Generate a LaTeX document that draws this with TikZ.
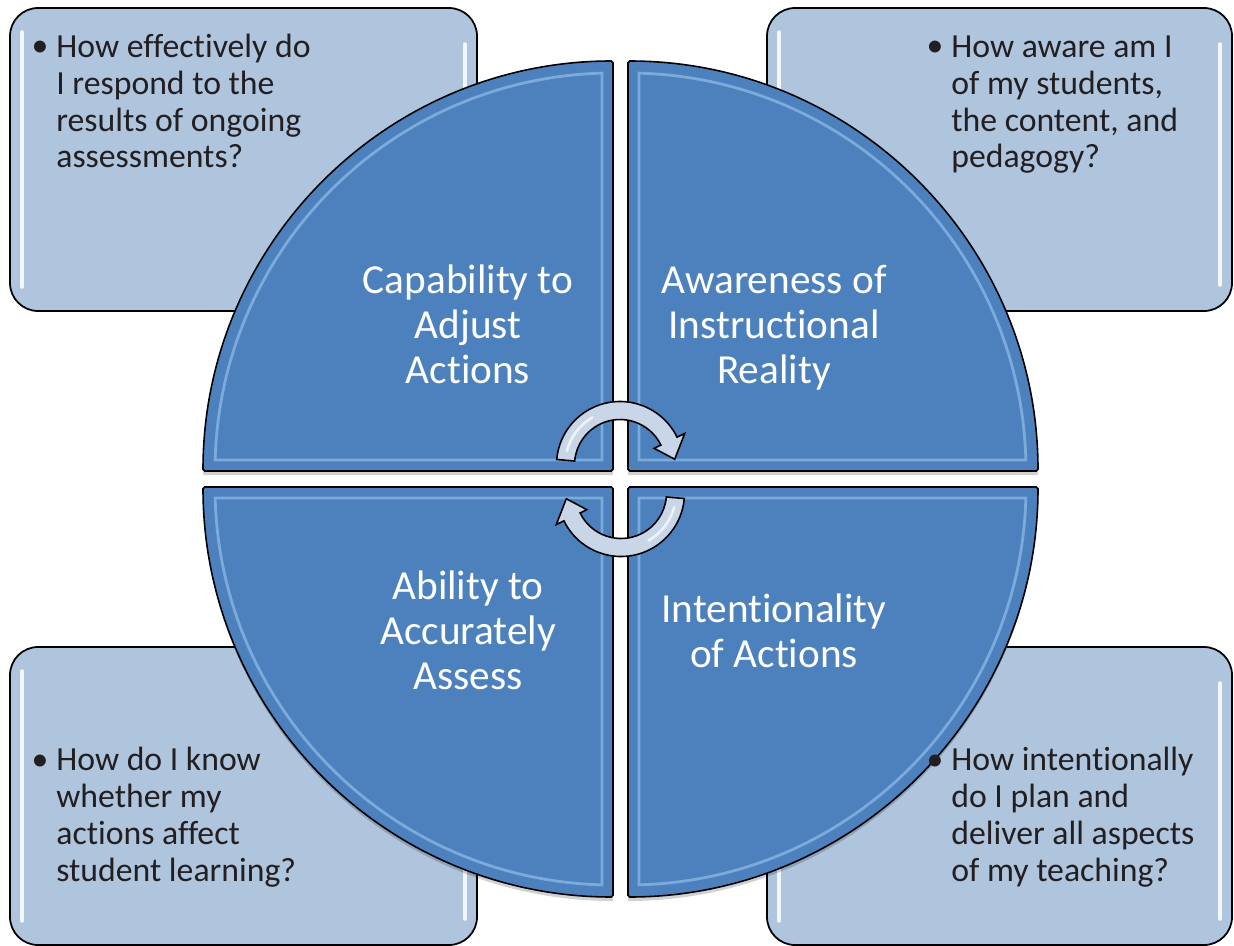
\documentclass[tikz,border=0pt]{standalone}
\usepackage{fontspec}
\setmainfont{Carlito}[Ligatures=NoCommon]
\definecolor{boxfill}{RGB}{175,197,222}
\definecolor{quadfill}{RGB}{76,129,189}
\definecolor{bevelc}{RGB}{150,192,235}
\definecolor{arrowfill}{RGB}{200,214,232}
\definecolor{txt}{RGB}{35,31,32}
\begin{document}
\begin{tikzpicture}[x=0.02cm,y=0.02cm,
  qbox/.style={draw=black, line width=1pt, fill=boxfill, rounded corners=16pt},
  qtext/.style={font=\fontsize{19.2}{21}\selectfont, text=txt, align=left, anchor=base west, inner sep=0pt},
  bul/.style={font=\fontsize{19.2}{21}\selectfont, text=txt, anchor=base, inner sep=0pt},
  quad/.style={draw=black, line width=0.9pt, fill=quadfill, rounded corners=1pt},
  qshadow/.style={fill=black, opacity=0.18},
  bev/.style={draw=bevelc, line width=1.6pt, opacity=0.65},
  qlabel/.style={font=\fontsize{23.5}{25.5}\selectfont, text=white, align=center, anchor=base, inner sep=0pt},
  hl/.style={draw=white, line width=2pt, line cap=round, opacity=0.85},
  cyc/.style={draw=black, line width=0.9pt, fill=arrowfill},
  cychl/.style={draw=white, line width=1.5pt, opacity=0.7, line cap=round}]
\useasboundingbox (0,0) rectangle (1234,-946);

% ---- question boxes ----
\path[qbox] (10,-8) rectangle (477,-311);
\path[qbox] (767,-8) rectangle (1232,-311);
\path[qbox] (10,-647) rectangle (477,-945);
\path[qbox] (767,-647) rectangle (1232,-945);
\foreach \l/\t/\r/\b in {10/-8/477/-311, 767/-8/1232/-311, 10/-647/477/-945, 767/-647/1232/-945}{
  \draw[hl] (\l+12,\t-24) -- (\l+12,\b+24);
  \draw[hl] (\r-12,\t-36) -- (\r-12,\b+26);
}

% ---- quadrant shadows ----
\foreach \cx/\cy/\sx/\sy in {613/-471/1/1, 628/-471/-1/1, 613/-487/1/-1, 628/-487/-1/-1}{
  \begin{scope}[shift={(\cx,\cy-4)}, xscale=\sx, yscale=\sy]
    \path[qshadow] (0,0) -- (-410,0) arc[start angle=180, end angle=90, radius=410] -- cycle;
  \end{scope}
}
% ---- quadrants ----
\foreach \cx/\cy/\sx/\sy in {613/-471/1/1, 628/-471/-1/1, 613/-487/1/-1, 628/-487/-1/-1}{
  \begin{scope}[shift={(\cx,\cy)}, xscale=\sx, yscale=\sy]
    \path[quad] (0,0) -- (-410,0) arc[start angle=180, end angle=90, radius=410] -- cycle;
    \path[bev] (-11,11) -- (-397.85,11) arc[start angle=178.42, end angle=91.58, radius=398] -- cycle;
  \end{scope}
}

% ---- quadrant labels (anchor = baseline of last line) ----
\node[qlabel] (adjust) at (468,-383) {Capability to\\Adjust\\Actions};
\node[qlabel] (aware) at (774,-383) {Awareness of\\Instructional\\Reality};
\node[qlabel] (assess) at (468,-689) {Ability to\\Accurately\\Assess};
\node[qlabel] (intent) at (774,-667) {Intentionality\\of Actions};

% ---- cycle arrows ----
\begin{scope}[shift={(620,-465)}]
  \path[cyc] (175:63.5) arc[start angle=175, end angle=26, radius=63.5] -- (26:72) -- (6:55) -- (26:38) -- (26:45.5) arc[start angle=26, end angle=175, radius=45.5] -- cycle;
  \draw[cychl] (165:55) arc[start angle=165, end angle=120, radius=55];
\end{scope}
\begin{scope}[shift={(621,-493)}, rotate=180]
  \path[cyc] (175:63.5) arc[start angle=175, end angle=26, radius=63.5] -- (26:72) -- (6:55) -- (26:38) -- (26:45.5) arc[start angle=26, end angle=175, radius=45.5] -- cycle;
  \draw[cychl] (165:55) arc[start angle=165, end angle=120, radius=55];
\end{scope}

% ---- box texts (anchor = baseline of last line) ----
\node[bul] (b1) at (40,-57) {\textbullet};
\node[qtext] (t1) at (56,-168) {How effectively do\\I respond to the\\results of ongoing\\assessments?};
\node[bul] (b2) at (935,-57) {\textbullet};
\node[qtext] (t2) at (951,-168) {How aware am I\\of my students,\\the content, and\\pedagogy?};
\node[bul] (b3) at (40,-770) {\textbullet};
\node[qtext] (t3) at (56,-881) {How do I know\\whether my\\actions affect\\student learning?};
\node[bul] (b4) at (935,-770) {\textbullet};
\node[qtext] (t4) at (951,-881) {How intentionally\\do I plan and\\deliver all aspects\\of my teaching?};
\end{tikzpicture}
\end{document}
